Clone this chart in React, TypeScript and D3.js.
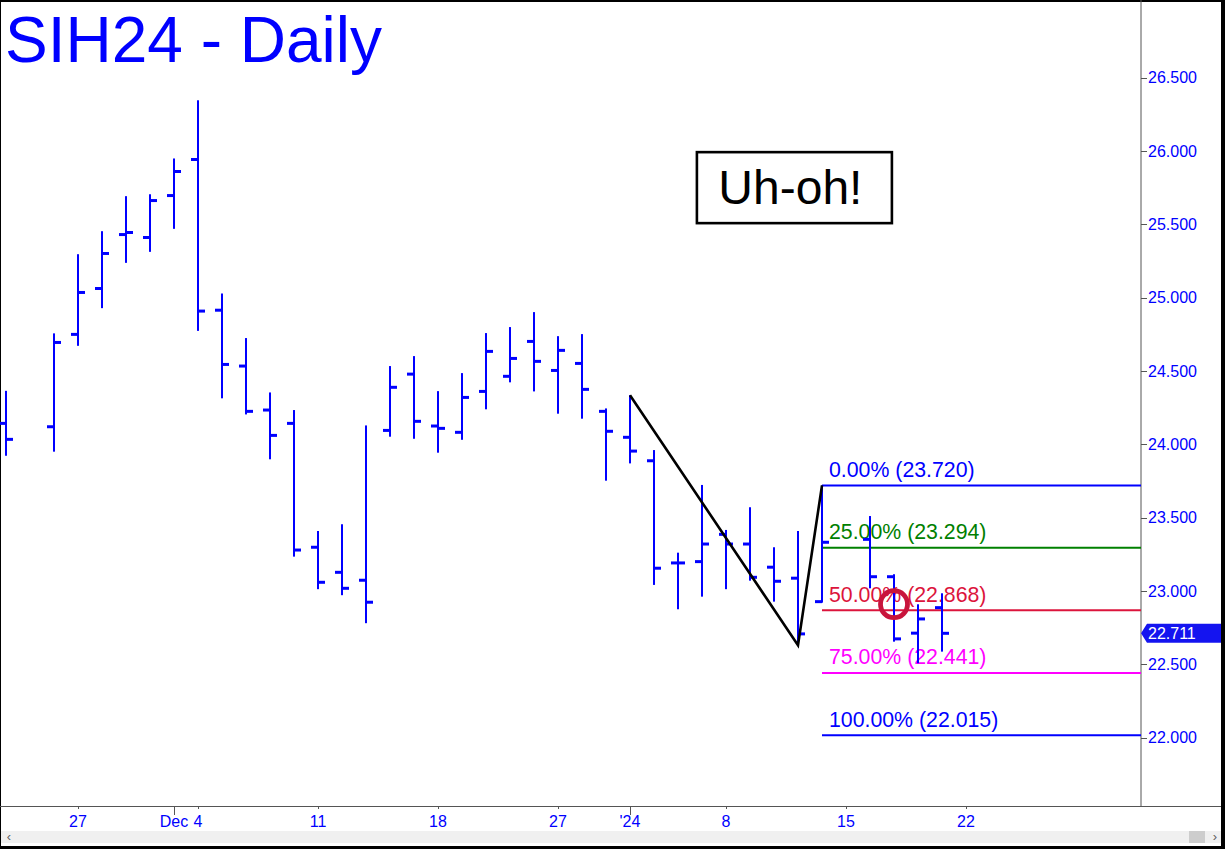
import React from "react";
import * as d3 from "d3";

// ---- data ----
const opens = [24.143, null, 24.120, 24.750, 25.063, 25.431, 25.411, 25.697, 25.943, 24.915, 24.534, 24.234, 24.143, 23.298, 23.127, 23.073, 24.095, 24.479, 24.125, 24.082, 24.361, 24.464, 24.702, 24.504, 24.552, 24.225, 24.048, 23.888, 23.191, 23.200, 23.386, 23.320, 23.162, 23.087, 22.927, null, 23.352, 23.097, 22.712, 22.886];
const highs = [24.365, null, 24.757, 25.297, 25.454, 25.693, 25.706, 25.950, 26.347, 25.029, 24.725, 24.354, 24.234, 23.409, 23.455, 24.129, 24.534, 24.602, 24.363, 24.486, 24.759, 24.800, 24.902, 24.738, 24.752, 24.245, 24.336, 23.961, 23.261, 23.723, 23.416, 23.571, 23.298, 23.409, 23.720, null, 23.511, 23.114, 22.909, 22.984];
const lows = [23.922, null, 23.950, 24.672, 24.929, 25.238, 25.313, 25.470, 24.774, 24.314, 24.204, 23.898, 23.234, 23.012, 22.971, 22.780, 24.052, 24.038, 23.943, 24.031, 24.239, 24.423, 24.361, 24.209, 24.175, 23.752, 23.870, 23.041, 22.875, 22.961, 23.012, 23.070, 22.927, 22.632, 22.920, null, 23.018, 22.654, 22.507, 22.586];
const closes = [24.034, null, 24.695, 25.036, 25.302, 25.445, 25.663, 25.861, 24.909, 24.545, 24.225, 24.061, 23.279, 23.059, 23.018, 22.923, 24.389, 24.157, 24.109, 24.320, 24.634, 24.586, 24.566, 24.641, 24.375, 24.089, 23.954, 23.155, 23.191, 23.320, 23.320, 23.093, 23.066, 22.707, 23.332, null, 23.097, 22.673, 22.809, 22.711];

const xTickSlots = [3, 7, 8, 13, 18, 23, 26, 30, 35, 40];
const xTickLabels = ["27", "Dec", "4", "11", "18", "27", "'24", "8", "15", "22"];
const xMajorSlots = [7, 26];

const yTicks = [22.0, 22.5, 23.0, 23.5, 24.0, 24.5, 25.0, 25.5, 26.0, 26.5];

const zigSlots = [26, 33, 34];
const zigValues = [24.335, 22.630, 23.720];

const fibPcts = ["0.00%", "25.00%", "50.00%", "75.00%", "100.00%"];
const fibValues = [23.72, 23.294, 22.868, 22.441, 22.015];
const fibColors = ["#0000ff", "#008000", "#dc143c", "#ff00ff", "#0000ff"];
const fibStartSlot = 34;

const lastPrice = 22.711;
const circleSlot = 37;
const circleValue = 22.91;
const noteSlot = 32.85;
const noteValue = 25.751;
const noteText = "Uh-oh!";
const title = "SIH24 - Daily";

const W = 1225;
const H = 849;
const plotRight = 1141;
const axisY = 806;
const FONT = "'Liberation Sans', Arial, sans-serif";

export default function App() {
  const x = d3.scaleLinear().domain([-0.25, 47.2917]).range([0, plotRight]);
  const y = d3.scaleLinear().domain([21.533, 27.031]).range([axisY, 0]);

  const bars = opens
    .map((o, i) => ({ i, o, h: highs[i], l: lows[i], c: closes[i] }))
    .filter((b) => b.o != null);

  const zigLine = d3
    .line<number>()
    .x((_, k) => x(zigSlots[k]))
    .y((v) => y(v));

  const tagY = y(lastPrice);

  return (
    <svg
      width={W}
      height={H}
      style={{ position: "absolute", left: 0, top: 0, display: "block" }}
      fontFamily={FONT}
    >
      <rect x={0} y={0} width={W} height={H} fill="#000" />
      <rect x={1} y={2} width={1220} height={844} fill="#fff" />

      {/* scrollbar */}
      <rect x={1} y={831} width={1220} height={12} fill="#f0f0f0" />
      <rect x={1189} y={831} width={16} height={12} fill="#cdcdcd" />
      <text x={9} y={841} fontSize={13} fill="#606060" textAnchor="middle">‹</text>
      <text x={1215} y={841} fontSize={13} fill="#606060" textAnchor="middle">›</text>

      {/* frame lines */}
      <line x1={plotRight} y1={0} x2={plotRight} y2={axisY} stroke="#555" strokeWidth={1} />
      <line x1={0} y1={axisY + 0.5} x2={1221} y2={axisY + 0.5} stroke="#555" strokeWidth={1} />

      {/* y axis */}
      {yTicks.map((t) => (
        <g key={t}>
          <line x1={plotRight} x2={plotRight + 6} y1={Math.round(y(t)) + 0.5} y2={Math.round(y(t)) + 0.5} stroke="#555" />
          <text x={plotRight + 7} y={y(t)} dy="0.35em" fontSize={16} fill="#0000ff">
            {t.toFixed(3)}
          </text>
        </g>
      ))}

      {/* x axis */}
      {xTickSlots.map((s, k) => (
        <g key={k}>
          <line
            x1={Math.round(x(s)) + 0.5}
            x2={Math.round(x(s)) + 0.5}
            y1={axisY}
            y2={axisY + (xMajorSlots.includes(s) ? 9 : 3)}
            stroke="#555"
          />
          <text x={x(s)} y={826.5} fontSize={16} fill="#0000ff" textAnchor="middle">
            {xTickLabels[k]}
          </text>
        </g>
      ))}

      {/* fib lines */}
      {fibValues.map((v, k) => (
        <g key={k}>
          <line x1={x(fibStartSlot)} x2={plotRight} y1={y(v)} y2={y(v)} stroke={fibColors[k]} strokeWidth={2} />
          <text x={x(fibStartSlot) + 7} y={y(v) - 8.5} fontSize={21.3} fill={fibColors[k]}>
            {`${fibPcts[k]} (${v.toFixed(3)})`}
          </text>
        </g>
      ))}

      {/* OHLC bars */}
      {bars.map((b) => {
        const cx = x(b.i);
        return (
          <g key={b.i} stroke="#0000ff">
            <line x1={cx} x2={cx} y1={y(b.h as number)} y2={y(b.l as number)} strokeWidth={2} />
            <line x1={cx - 7} x2={cx} y1={y(b.o as number)} y2={y(b.o as number)} strokeWidth={3} />
            <line x1={cx} x2={cx + 7} y1={y(b.c as number)} y2={y(b.c as number)} strokeWidth={3} />
          </g>
        );
      })}

      {/* zigzag */}
      <path d={zigLine(zigValues) || ""} fill="none" stroke="#000" strokeWidth={2.6} strokeLinejoin="miter" />

      {/* circle */}
      <circle cx={x(circleSlot)} cy={y(circleValue)} r={13.5} fill="none" stroke="#c8143c" strokeWidth={4.8} />

      {/* price tag */}
      <polygon
        points={`${plotRight},${tagY} ${plotRight + 6},${tagY - 9.5} 1221,${tagY - 9.5} 1221,${tagY + 9.5} ${plotRight + 6},${tagY + 9.5}`}
        fill="#1414f0"
      />
      <text x={plotRight + 7} y={tagY} dy="0.35em" fontSize={16} fill="#fff">
        {lastPrice.toFixed(3)}
      </text>

      {/* note box */}
      <rect x={x(noteSlot) - 97.5} y={y(noteValue) - 35.5} width={195} height={71} fill="#fff" stroke="#000" strokeWidth={2.6} />
      <text x={x(noteSlot) - 4} y={y(noteValue) + 16} fontSize={48} fill="#000" textAnchor="middle">
        {noteText}
      </text>

      {/* title */}
      <text x={5} y={62} fontSize={64} fill="#0000ff">
        {title}
      </text>
    </svg>
  );
}
